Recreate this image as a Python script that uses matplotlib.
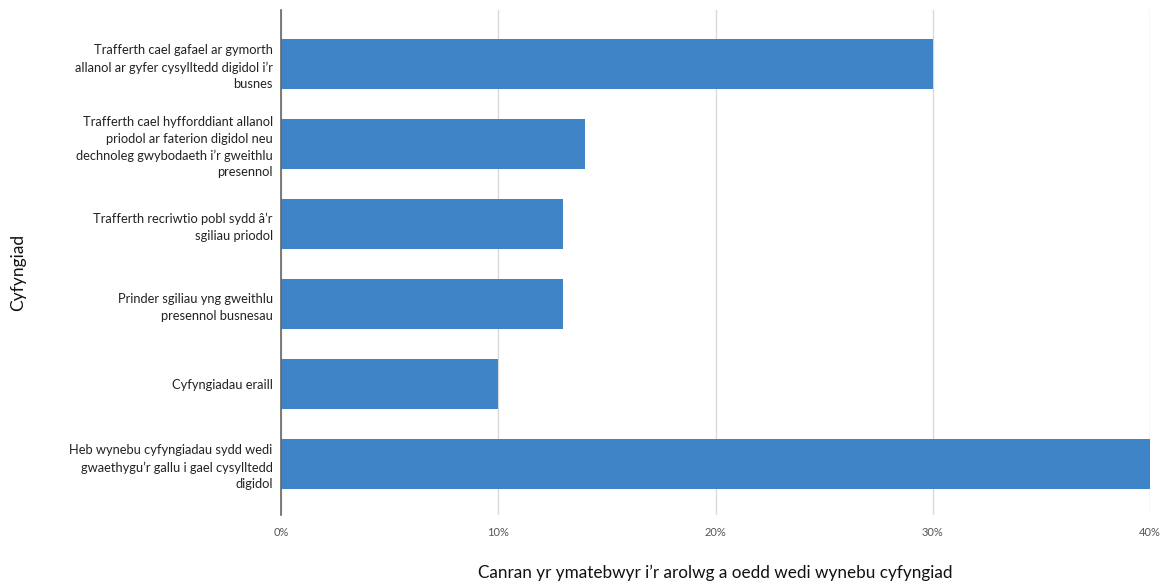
import matplotlib
matplotlib.use("Agg")
import matplotlib.pyplot as plt
from matplotlib.ticker import FuncFormatter

categories = [
    "Trafferth cael gafael ar gymorth\nallanol ar gyfer cysylltedd digidol i’r\nbusnes",
    "Trafferth cael hyfforddiant allanol\npriodol ar faterion digidol neu\ndechnoleg gwybodaeth i’r gweithlu\npresennol",
    "Trafferth recriwtio pobl sydd â’r\nsgiliau priodol",
    "Prinder sgiliau yng gweithlu\npresennol busnesau",
    "Cyfyngiadau eraill",
    "Heb wynebu cyfyngiadau sydd wedi\ngwaethygu’r gallu i gael cysylltedd\ndigidol",
]
values = [30, 14, 13, 13, 10, 40]
xticks = [0, 10, 20, 30, 40]

plt.rcParams['font.family'] = ['Lato', 'DejaVu Sans']

fig = plt.figure(figsize=(11.64, 5.85), dpi=100)
ax = fig.add_axes([281/1164, 1-515/585, (1150-281)/1164, (515-10)/585])

pos = list(range(len(categories)))
ax.barh(pos, values, height=0.625, color='#3F84C7', zorder=3)
ax.set_ylim(5.6375, -0.675)
ax.set_xlim(0, 40)
ax.set_yticks(pos)
ax.set_yticklabels(categories, fontsize=9.3, color='#222222', linespacing=1.45)
ax.tick_params(axis='y', length=0, pad=6)
ax.set_xticks(xticks)
ax.xaxis.set_major_formatter(FuncFormatter(lambda v, p: f"{int(v)}%"))
ax.tick_params(axis='x', length=0, labelsize=8, labelcolor='#555555', pad=9)
ax.grid(axis='x', color='#d9d9d9', linewidth=1, zorder=0)
for s in ['top', 'right', 'bottom']:
    ax.spines[s].set_visible(False)
ax.spines['left'].set_color('#666666')
ax.spines['left'].set_linewidth(1.2)
ax.spines['left'].set_zorder(4)

fig.text(715/1164, 1-573/585, "Canran yr ymatebwyr i’r arolwg a oedd wedi wynebu cyfyngiad",
         ha='center', va='center', fontsize=12.3, color='#111111')
fig.text(18/1164, 1-272/585, "Cyfyngiad", rotation=90, ha='center', va='center',
         fontsize=12.5, color='#111111')

fig.savefig("out.png", dpi=100)
